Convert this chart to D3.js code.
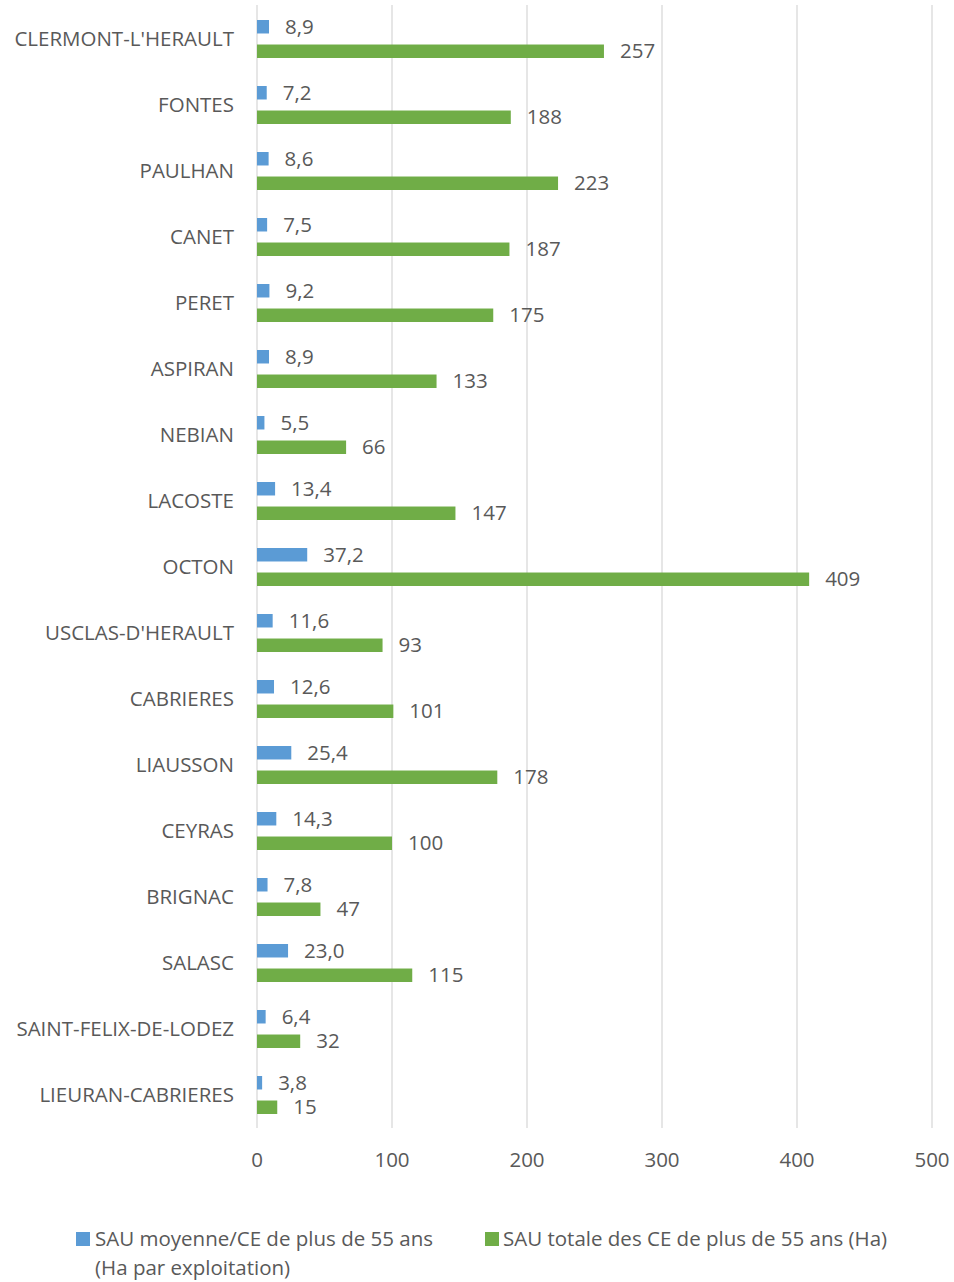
<!DOCTYPE html>
<html>
<head>
<meta charset="utf-8">
<script src="https://cdn.jsdelivr.net/npm/d3@7"></script>
<style>
  body { margin: 0; background: #fff; }
  text { font-family: "Open Sans", "Noto Sans", sans-serif; fill: #595959; }
</style>
</head>
<body>
<div id="chart"></div>
<script>
const communes = ["CLERMONT-L'HERAULT", "FONTES", "PAULHAN", "CANET", "PERET", "ASPIRAN", "NEBIAN",
  "LACOSTE", "OCTON", "USCLAS-D'HERAULT", "CABRIERES", "LIAUSSON", "CEYRAS", "BRIGNAC", "SALASC",
  "SAINT-FELIX-DE-LODEZ", "LIEURAN-CABRIERES"];
const sauMoyenne = [8.9, 7.2, 8.6, 7.5, 9.2, 8.9, 5.5, 13.4, 37.2, 11.6, 12.6, 25.4, 14.3, 7.8, 23.0, 6.4, 3.8];
const sauTotale = [257, 188, 223, 187, 175, 133, 66, 147, 409, 93, 101, 178, 100, 47, 115, 32, 15];
const xTicks = [0, 100, 200, 300, 400, 500];
const seriesNames = ["SAU moyenne/CE de plus de 55 ans (Ha par exploitation)", "SAU totale des CE de plus de 55 ans (Ha)"];
const colors = ["#5B9BD5", "#70AD47"];

const width = 954, height = 1282;
const fs = "20.5px";
const svg = d3.select("#chart").append("svg")
  .attr("width", width)
  .attr("height", height);

const x = d3.scaleLinear().domain([0, 500]).range([257, 932]);
const y = d3.scaleBand().domain(communes).range([6, 1128]);
const ySub = d3.scaleBand().domain([0, 1]).range([14, 52]).paddingInner(0.45);

// grid
svg.append("g").selectAll("line")
  .data(xTicks)
  .enter().append("line")
  .attr("x1", d => x(d)).attr("x2", d => x(d))
  .attr("y1", 5).attr("y2", 1128)
  .attr("stroke", "#D9D9D9")
  .attr("stroke-width", 1.3);

const fmtDec = v => v.toFixed(1).replace(".", ",");
const series = [sauMoyenne, sauTotale];

series.forEach((vals, s) => {
  const rows = communes.map((c, i) => ({ c, v: vals[i] }));
  const g = svg.append("g");
  g.selectAll("rect")
    .data(rows)
    .enter().append("rect")
    .attr("x", x(0))
    .attr("y", d => y(d.c) + ySub(s))
    .attr("width", d => x(d.v) - x(0))
    .attr("height", ySub.bandwidth())
    .attr("fill", colors[s]);
  g.selectAll("text")
    .data(rows)
    .enter().append("text")
    .attr("x", d => x(d.v) + 16)
    .attr("y", d => y(d.c) + ySub(s) + ySub.bandwidth() / 2)
    .attr("dy", "0.35em")
    .style("font-size", fs)
    .text(d => s === 0 ? fmtDec(d.v) : d3.format("d")(d.v));
});

// category labels
svg.append("g").selectAll("text")
  .data(communes)
  .enter().append("text")
  .attr("x", 234)
  .attr("y", d => y(d) + 33)
  .attr("dy", "0.35em")
  .attr("text-anchor", "end")
  .style("font-size", fs)
  .text(d => d);

// x tick labels
svg.append("g").selectAll("text")
  .data(xTicks)
  .enter().append("text")
  .attr("x", d => x(d))
  .attr("y", 1160)
  .attr("dy", "0.35em")
  .attr("text-anchor", "middle")
  .style("font-size", fs)
  .text(d => d);

// legend
const legend = svg.append("g");
legend.append("rect").attr("x", 76).attr("y", 1232).attr("width", 14).attr("height", 14).attr("fill", colors[0]);
legend.append("text").attr("x", 95).attr("y", 1239).attr("dy", "0.35em").style("font-size", fs)
  .text("SAU moyenne/CE de plus de 55 ans");
legend.append("text").attr("x", 95).attr("y", 1268).attr("dy", "0.35em").style("font-size", fs)
  .text("(Ha par exploitation)");
legend.append("rect").attr("x", 485).attr("y", 1232).attr("width", 14).attr("height", 14).attr("fill", colors[1]);
legend.append("text").attr("x", 503).attr("y", 1239).attr("dy", "0.35em").style("font-size", fs)
  .text(seriesNames[1]);
</script>
</body>
</html>
